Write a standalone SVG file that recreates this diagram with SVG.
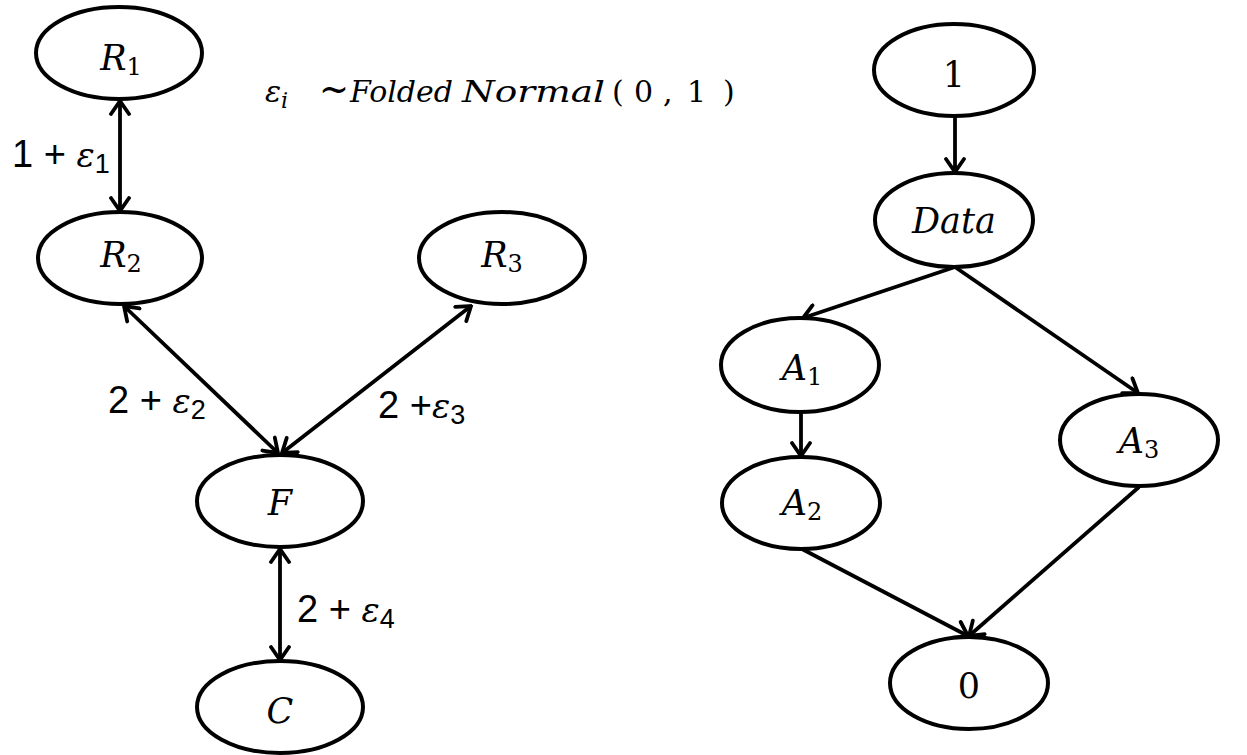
<svg xmlns="http://www.w3.org/2000/svg" width="1247" height="755" viewBox="0 0 1247 755">
<style>
.node ellipse{fill:#fff;stroke:#000;stroke-width:4}
.nt{font-family:"DejaVu Serif",serif;font-style:italic;font-size:35px;fill:#000;text-anchor:middle}
.up{font-style:normal}
.sub{font-style:normal;font-size:24px}
.lbl{font-family:"Liberation Sans",sans-serif;font-size:38px;fill:#000}
.eps{font-family:"DejaVu Serif",serif;font-style:italic;font-size:34px}
.lsub{font-family:"Liberation Sans",sans-serif;font-size:27px}
.title{font-family:"DejaVu Serif",serif;font-style:italic;font-size:30px;fill:#000}
.edges line{stroke:#000;stroke-width:3.8;fill:none}
</style>
<defs>
<marker id="arr" viewBox="-16 -11 18 22" refX="0" refY="0" markerWidth="18" markerHeight="22" markerUnits="userSpaceOnUse" orient="auto-start-reverse">
<path d="M-13,-9 L0,0 L-13,9" fill="none" stroke="#000" stroke-width="3.8" stroke-linecap="round" stroke-linejoin="miter"/>
</marker>
</defs>
<rect width="1247" height="755" fill="#fff"/>
<g class="edges" id="connectors">
<line x1="120" y1="101" x2="120" y2="211" marker-start="url(#arr)" marker-end="url(#arr)"/>
<line x1="124" y1="306" x2="278" y2="453" marker-start="url(#arr)" marker-end="url(#arr)"/>
<line x1="471" y1="306" x2="282" y2="453" marker-start="url(#arr)" marker-end="url(#arr)"/>
<line x1="280" y1="549" x2="280" y2="660" marker-start="url(#arr)" marker-end="url(#arr)"/>
<line x1="955" y1="117" x2="955" y2="172" marker-end="url(#arr)"/>
<line x1="955" y1="267" x2="803" y2="318" marker-end="url(#arr)"/>
<line x1="955" y1="267" x2="1138" y2="393" marker-end="url(#arr)"/>
<line x1="801" y1="412" x2="801" y2="456" marker-end="url(#arr)"/>
<line x1="802" y1="549" x2="968" y2="636" marker-end="url(#arr)"/>
<line x1="1139" y1="487" x2="969" y2="636" marker-end="url(#arr)"/>
</g>
<g id="R1" class="node"><ellipse cx="119" cy="53" rx="83" ry="46"/><text class="nt" x="121" y="70">R<tspan class="sub" dy="5">1</tspan></text></g>
<g id="R2" class="node"><ellipse cx="120" cy="258" rx="82" ry="46"/><text class="nt" x="121" y="267">R<tspan class="sub" dy="5">2</tspan></text></g>
<g id="R3" class="node"><ellipse cx="502" cy="258" rx="83" ry="46"/><text class="nt" x="502" y="267">R<tspan class="sub" dy="5">3</tspan></text></g>
<g id="F" class="node"><ellipse cx="280" cy="501" rx="83" ry="46"/><text class="nt" x="280" y="515">F</text></g>
<g id="C" class="node"><ellipse cx="280" cy="707" rx="83" ry="46"/><text class="nt" x="280" y="723">C</text></g>
<g id="n1" class="node"><ellipse cx="954" cy="70" rx="80" ry="46"/><text class="nt" x="954" y="87"><tspan class="up">1</tspan></text></g>
<g id="Data" class="node"><ellipse cx="954" cy="220" rx="79" ry="47"/><text class="nt" x="954" y="233">Data</text></g>
<g id="A1" class="node"><ellipse cx="800" cy="365" rx="79" ry="47"/><text class="nt" x="802" y="380">A<tspan class="sub" dy="5">1</tspan></text></g>
<g id="A2" class="node"><ellipse cx="801" cy="503" rx="79" ry="46"/><text class="nt" x="802" y="515">A<tspan class="sub" dy="5">2</tspan></text></g>
<g id="A3" class="node"><ellipse cx="1139" cy="440" rx="79" ry="46"/><text class="nt" x="1139" y="453">A<tspan class="sub" dy="5">3</tspan></text></g>
<g id="n0" class="node"><ellipse cx="969" cy="683" rx="79" ry="46"/><text class="nt" x="969" y="698"><tspan class="up">0</tspan></text></g>
<g id="labels">
<text class="lbl" x="12" y="167">1 + <tspan class="eps">ε</tspan><tspan class="lsub" dy="6">1</tspan></text>
<text class="lbl" x="108" y="413">2 + <tspan class="eps">ε</tspan><tspan class="lsub" dy="6">2</tspan></text>
<text class="lbl" x="378" y="418">2 +<tspan class="eps">ε</tspan><tspan class="lsub" dy="6">3</tspan></text>
<text class="lbl" x="297" y="622">2 + <tspan class="eps">ε</tspan><tspan class="lsub" dy="6">4</tspan></text>
<text class="title" y="102"><tspan x="265">ε</tspan><tspan font-size="22" dy="6">i</tspan><tspan x="319" dy="-6" class="up" font-size="40" textLength="30" lengthAdjust="spacingAndGlyphs">~</tspan><tspan x="350" textLength="103" lengthAdjust="spacingAndGlyphs">Folded</tspan><tspan x="462" textLength="143" lengthAdjust="spacingAndGlyphs">Normal</tspan><tspan x="612" class="up">(</tspan><tspan x="634" class="up">0</tspan><tspan x="663" class="up">,</tspan><tspan x="687" class="up">1</tspan><tspan x="723" class="up">)</tspan></text>
</g>
</svg>
